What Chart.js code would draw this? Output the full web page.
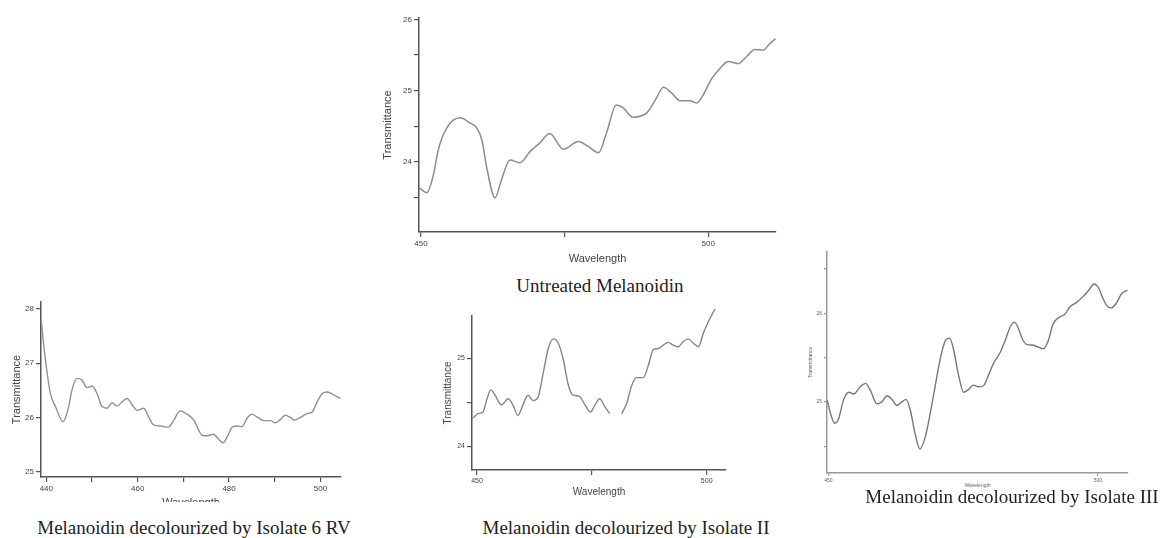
<!DOCTYPE html>
<html>
<head>
<meta charset="utf-8">
<title>Melanoidin spectra</title>
<script src="https://cdn.jsdelivr.net/npm/chart.js@4.4.1/dist/chart.umd.min.js"></script>
<style>
    body { margin: 0; background: #fff; width: 1160px; height: 538px; position: relative; overflow: hidden; }
    canvas { position: absolute; }
    .caption {
        position: absolute;
        font-family: "Liberation Serif", "Times New Roman", serif;
        font-size: 19px;
        line-height: 22px;
        color: #222;
        text-align: center;
        white-space: nowrap;
        background: #fff;
    }
</style>
</head>
<body>
<canvas id="untreatedChart" width="401" height="260" style="left:379px;top:8px"></canvas>
<canvas id="isolate6Chart" width="339" height="220" style="left:8px;top:292px"></canvas>
<canvas id="isolate2Chart" width="290" height="194" style="left:440px;top:306px"></canvas>
<canvas id="isolate3Chart" width="325" height="248" style="left:807px;top:242px"></canvas>

<div class="caption" style="left:500px;top:275px;width:200px">Untreated Melanoidin</div>
<div class="caption" style="left:14px;top:502px;width:360px;padding-top:15px">Melanoidin decolourized by Isolate 6 RV</div>
<div class="caption" style="left:466px;top:517px;width:320px">Melanoidin decolourized by Isolate II</div>
<div class="caption" style="left:852px;top:486px;width:320px;background:transparent">Melanoidin decolourized by Isolate III</div>

<script>
// Untreated melanoidin
var untreatedWl = [449.7, 451.0, 452.1, 453.0, 454.5, 456.8, 458.5, 459.7, 460.6, 461.4, 462.9, 464.0, 465.5, 467.2,
    469.0, 470.7, 472.4, 474.8, 477.4, 479.1, 480.9, 482.3, 484.0, 485.2, 486.9, 489.3, 491.0, 492.2, 493.6, 495.1,
    496.8, 498.0, 499.1, 500.6, 502.0, 503.5, 505.2, 506.7, 508.1, 509.6, 510.7, 511.7];
var untreatedT = [23.64, 23.57, 23.80, 24.17, 24.48, 24.62, 24.55, 24.48, 24.31, 23.94, 23.50, 23.75, 24.03, 23.99,
    24.15, 24.27, 24.40, 24.18, 24.29, 24.22, 24.13, 24.41, 24.80, 24.76, 24.63, 24.69, 24.90, 25.05, 24.97, 24.86,
    24.86, 24.83, 24.94, 25.17, 25.31, 25.41, 25.38, 25.48, 25.58, 25.57, 25.66, 25.73];
var untreatedXTicks = [450, 475, 500];
var untreatedXLabels = ['450', '', '500'];
var untreatedYTicks = [23.5, 24, 24.5, 25, 25.5, 26];
var untreatedYLabels = ['', '24', '', '25', '', '26'];

// Isolate 6 RV
var isolate6Wl = [438.9, 439.4, 440.1, 440.9, 442.0, 443.7, 444.9, 445.6, 446.7, 447.8, 448.9, 450.0, 451.1, 452.2,
    453.3, 454.4, 455.5, 456.6, 457.7, 458.8, 459.9, 461.3, 462.4, 463.5, 465.0, 466.8, 467.9, 469.3, 470.8, 472.3,
    474.1, 475.2, 476.6, 477.7, 478.7, 479.6, 480.7, 481.8, 482.8, 483.9, 485.0, 486.1, 487.6, 489.1, 490.1, 491.2,
    492.3, 493.4, 494.3, 495.6, 497.1, 498.2, 499.3, 500.4, 501.5, 503.0, 504.4];
var isolate6T = [27.79, 27.36, 26.87, 26.44, 26.20, 25.92, 26.20, 26.50, 26.72, 26.69, 26.55, 26.58, 26.44, 26.20,
    26.17, 26.27, 26.21, 26.29, 26.35, 26.23, 26.13, 26.17, 26.01, 25.86, 25.84, 25.82, 25.95, 26.12, 26.06, 25.95,
    25.67, 25.66, 25.69, 25.60, 25.53, 25.64, 25.82, 25.84, 25.83, 25.98, 26.06, 26.01, 25.94, 25.94, 25.90, 25.96,
    26.04, 26.00, 25.95, 26.00, 26.07, 26.10, 26.29, 26.44, 26.47, 26.41, 26.35];
var isolate6XTicks = [440, 450, 460, 470, 480, 490, 500];
var isolate6XLabels = ['440', '', '460', '', '480', '', '500'];
var isolate6YTicks = [25, 26, 27, 28];
var isolate6YLabels = ['25', '26', '27', '28'];

// Isolate II (the scan has a break around 480 nm)
var isolate2Wl = [449.1, 450.2, 451.3, 452.0, 453.0, 453.9, 455.3, 456.8, 457.8, 458.9, 460.0, 461.1, 462.2, 463.3,
    464.4, 465.5, 466.6, 467.7, 468.8, 469.8, 470.9, 472.2, 473.5, 474.7, 475.7, 476.7, 477.8, 478.9, 480.2, 481.5,
    482.6, 483.6, 484.7, 486.2, 487.3, 488.4, 489.5, 490.6, 491.6, 492.7, 493.8, 494.9, 496.0, 497.1, 498.2, 499.3,
    500.4, 501.8];
var isolate2T = [24.32, 24.37, 24.39, 24.51, 24.64, 24.58, 24.47, 24.54, 24.47, 24.35, 24.47, 24.58, 24.52, 24.56,
    24.83, 25.11, 25.22, 25.17, 24.98, 24.71, 24.58, 24.57, 24.47, 24.39, 24.47, 24.54, 24.45, 24.37, null, 24.37,
    24.49, 24.68, 24.78, 24.78, 24.92, 25.10, 25.11, 25.15, 25.18, 25.15, 25.13, 25.19, 25.22, 25.17, 25.13, 25.29,
    25.42, 25.56];
var isolate2XTicks = [450, 475, 500];
var isolate2XLabels = ['450', '', '500'];
var isolate2YTicks = [24, 24.5, 25];
var isolate2YLabels = ['24', '', '25'];

// Isolate III
var isolate3Wl = [449.8, 450.4, 451.2, 451.9, 452.8, 453.8, 454.7, 455.9, 456.9, 457.8, 459.0, 459.9, 460.9, 461.8,
    462.7, 463.6, 464.4, 465.2, 466.1, 467.0, 468.0, 468.9, 469.8, 470.7, 471.7, 472.5, 473.2, 474.1, 475.1, 476.0,
    476.9, 478.0, 478.9, 479.7, 480.6, 481.9, 482.8, 483.7, 484.5, 485.2, 486.0, 486.8, 488.0, 488.9, 489.9, 490.8,
    491.7, 492.7, 493.9, 494.8, 496.0, 497.3, 498.2, 499.3, 500.1, 501.0, 501.9, 502.5, 503.5, 504.4, 505.5];
var isolate3T = [25.02, 24.87, 24.76, 24.81, 25.02, 25.11, 25.09, 25.17, 25.21, 25.13, 24.98, 25.00, 25.07, 25.03,
    24.96, 25.00, 25.03, 24.91, 24.64, 24.47, 24.61, 24.87, 25.17, 25.47, 25.69, 25.72, 25.60, 25.32, 25.11, 25.14,
    25.19, 25.17, 25.19, 25.30, 25.43, 25.56, 25.69, 25.84, 25.90, 25.84, 25.71, 25.65, 25.64, 25.62, 25.60, 25.69,
    25.88, 25.95, 25.99, 26.07, 26.12, 26.19, 26.25, 26.33, 26.29, 26.16, 26.07, 26.06, 26.12, 26.22, 26.26];
var isolate3XTicks = [450, 500];
var isolate3XLabels = ['450', '500'];
var isolate3YTicks = [24.5, 25, 25.5, 26, 26.5];
var isolate3YLabels = ['', '25', '', '26', ''];

var sansFont = 'Liberation Sans, Arial, sans-serif';

function drawSpectrum(canvasId, s) {
    var points = s.wl.map(function (w, i) { return { x: w, y: s.t[i] }; });

    var axisGrid = {
        drawOnChartArea: false,
        drawTicks: true,
        tickLength: s.tickLength,
        color: s.axisColor,
        lineWidth: 1.2
    };

    return new Chart(document.getElementById(canvasId), {
        type: 'line',
        data: {
            datasets: [{
                data: points,
                borderColor: s.lineColor,
                borderWidth: s.lineWidth,
                pointRadius: 0,
                fill: false,
                cubicInterpolationMode: 'monotone',
                spanGaps: false,
                clip: false
            }]
        },
        options: {
            responsive: false,
            animation: false,
            events: [],
            layout: { padding: { top: 10, right: s.padRight, bottom: 0, left: 0 } },
            plugins: { legend: { display: false }, tooltip: { enabled: false } },
            scales: {
                x: {
                    type: 'linear',
                    min: s.xMin,
                    max: s.xMax,
                    grid: axisGrid,
                    border: { display: true, color: s.axisColor, width: 1.5 },
                    afterBuildTicks: function (scale) {
                        scale.ticks = s.xTicks.map(function (v) { return { value: v }; });
                    },
                    afterFit: function (scale) { scale.height = s.xAxisHeight; },
                    ticks: {
                        maxRotation: 0,
                        autoSkip: false,
                        padding: 2,
                        color: s.textColor,
                        font: { family: sansFont, size: s.tickSize },
                        callback: function (value, index) { return s.xLabels[index]; }
                    },
                    title: {
                        display: true,
                        text: 'Wavelength',
                        color: s.textColor,
                        padding: { top: 0, bottom: s.titlePad },
                        font: { family: sansFont, size: s.titleSize }
                    }
                },
                y: {
                    type: 'linear',
                    min: s.yMin,
                    max: s.yMax,
                    grid: axisGrid,
                    border: { display: true, color: s.axisColor, width: 1.5 },
                    afterBuildTicks: function (scale) {
                        scale.ticks = s.yTicks.map(function (v) { return { value: v }; });
                    },
                    afterFit: function (scale) { scale.width = s.yAxisWidth; },
                    ticks: {
                        autoSkip: false,
                        padding: 2,
                        color: s.textColor,
                        font: { family: sansFont, size: s.tickSize },
                        callback: function (value, index) { return s.yLabels[index]; }
                    },
                    title: {
                        display: true,
                        text: 'Transmittance',
                        color: s.textColor,
                        padding: { top: s.titlePad, bottom: 0 },
                        font: { family: sansFont, size: s.titleSize }
                    }
                }
            }
        }
    });
}

drawSpectrum('untreatedChart', {
    wl: untreatedWl, t: untreatedT,
    xTicks: untreatedXTicks, xLabels: untreatedXLabels,
    yTicks: untreatedYTicks, yLabels: untreatedYLabels,
    xMin: 449.65, xMax: 511.8, yMin: 23.02, yMax: 26.02,
    yAxisWidth: 40, xAxisHeight: 36, padRight: 4,
    tickLength: 5, tickSize: 8, titleSize: 11, titlePad: 2,
    axisColor: '#555', lineColor: '#8c8c8c', lineWidth: 1.5, textColor: '#444'
});

drawSpectrum('isolate6Chart', {
    wl: isolate6Wl, t: isolate6T,
    xTicks: isolate6XTicks, xLabels: isolate6XLabels,
    yTicks: isolate6YTicks, yLabels: isolate6YLabels,
    xMin: 438.84, xMax: 504.5, yMin: 24.9, yMax: 28.13,
    yAxisWidth: 33, xAxisHeight: 35, padRight: 6,
    tickLength: 5, tickSize: 8, titleSize: 11, titlePad: 2,
    axisColor: '#555', lineColor: '#909090', lineWidth: 1.4, textColor: '#444'
});

drawSpectrum('isolate2Chart', {
    wl: isolate2Wl, t: isolate2T,
    xTicks: isolate2XTicks, xLabels: isolate2XLabels,
    yTicks: isolate2YTicks, yLabels: isolate2YLabels,
    xMin: 448.9, xMax: 504.2, yMin: 23.73, yMax: 25.48,
    yAxisWidth: 32, xAxisHeight: 30, padRight: 4,
    tickLength: 5, tickSize: 7, titleSize: 10, titlePad: 2,
    axisColor: '#555', lineColor: '#858585', lineWidth: 1.4, textColor: '#444'
});

drawSpectrum('isolate3Chart', {
    wl: isolate3Wl, t: isolate3T,
    xTicks: isolate3XTicks, xLabels: isolate3XLabels,
    yTicks: isolate3YTicks, yLabels: isolate3YLabels,
    xMin: 449.75, xMax: 505.6, yMin: 24.2, yMax: 26.69,
    yAxisWidth: 20, xAxisHeight: 17, padRight: 4,
    tickLength: 3, tickSize: 5, titleSize: 5, titlePad: 1,
    axisColor: '#999', lineColor: '#777', lineWidth: 1.4, textColor: '#666'
});
</script>
</body>
</html>
